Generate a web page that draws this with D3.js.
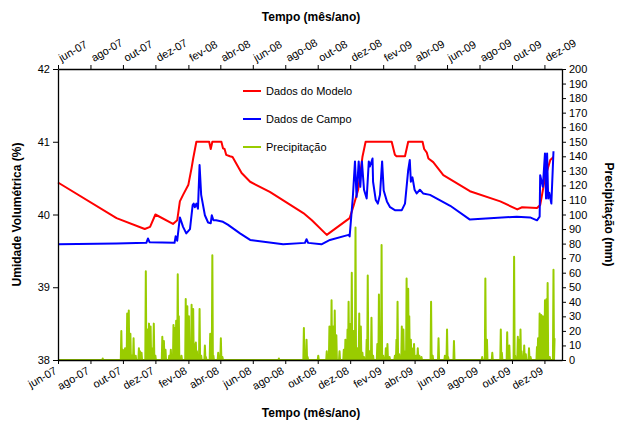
<!DOCTYPE html>
<html>
<head>
<meta charset="utf-8">
<script src="https://cdn.jsdelivr.net/npm/d3@7"></script>
<style>
body { margin: 0; background: #fff; }
text { font-family: "Liberation Sans", Arial, sans-serif; }
</style>
</head>
<body>
<svg id="chart" width="623" height="426"></svg>
<script>
// umidade volumetrica (%) - modelo
var modelo = [
  ["2007-06-01",40.44],["2007-09-19",39.95],["2007-11-11",39.80],["2007-11-21",39.83],
  ["2007-12-01",40.00],["2008-01-03",39.87],["2008-01-11",39.92],["2008-01-16",40.18],
  ["2008-01-22",40.27],["2008-02-01",40.41],["2008-02-07",40.64],["2008-02-10",40.77],
  ["2008-02-16",41.00],["2008-03-11",41.00],["2008-03-14",40.90],["2008-03-17",41.00],
  ["2008-04-03",41.00],["2008-04-06",40.91],["2008-04-09",40.90],["2008-04-12",40.82],
  ["2008-04-19",40.80],["2008-04-24",40.79],["2008-05-11",40.57],["2008-05-27",40.45],
  ["2008-07-03",40.31],["2008-09-04",40.02],["2008-09-20",39.92],["2008-10-18",39.72],
  ["2008-11-30",39.95],["2008-12-07",40.11],["2008-12-16",40.34],["2008-12-24",40.79],
  ["2008-12-30",41.00],["2009-02-17",41.00],["2009-02-23",40.82],["2009-02-26",40.80],
  ["2009-03-14",40.80],["2009-03-20",41.00],["2009-04-16",41.00],["2009-04-19",40.90],
  ["2009-04-24",40.85],["2009-04-27",40.77],["2009-05-06",40.72],["2009-05-25",40.54],
  ["2009-07-14",40.32],["2009-09-09",40.18],["2009-10-11",40.07],["2009-10-20",40.10],
  ["2009-11-17",40.09],["2009-11-23",40.13],["2009-11-26",40.25],["2009-12-02",40.50],
  ["2009-12-12",40.75],["2009-12-18",40.79]
];

// umidade volumetrica (%) - campo
var campo = [
  ["2007-06-01",39.59],["2007-09-19",39.60],["2007-11-14",39.61],["2007-11-17",39.67],
  ["2007-11-20",39.62],["2008-01-06",39.61],["2008-01-08",39.70],["2008-01-11",39.64],
  ["2008-01-16",39.96],["2008-01-22",39.83],["2008-01-28",39.74],["2008-02-04",39.80],
  ["2008-02-09",40.13],["2008-02-11",40.15],["2008-02-13",40.10],["2008-02-16",40.15],
  ["2008-02-19",40.08],["2008-02-22",40.68],["2008-02-25",40.27],["2008-03-03",39.99],
  ["2008-03-09",39.89],["2008-03-14",39.88],["2008-03-16",39.99],["2008-03-19",39.92],
  ["2008-03-24",39.92],["2008-04-06",39.90],["2008-04-15",39.86],["2008-05-08",39.74],
  ["2008-05-27",39.65],["2008-07-28",39.59],["2008-09-07",39.61],["2008-09-10",39.66],
  ["2008-09-13",39.61],["2008-10-08",39.59],["2008-10-24",39.65],["2008-11-28",39.72],
  ["2008-11-30",39.70],["2008-12-06",40.24],["2008-12-10",40.73],["2008-12-13",40.24],
  ["2008-12-17",40.73],["2008-12-20",40.38],["2008-12-23",40.73],["2008-12-27",40.34],
  ["2009-01-01",40.22],["2009-01-05",40.73],["2009-01-07",40.66],["2009-01-12",40.77],
  ["2009-01-13",40.45],["2009-01-18",40.20],["2009-01-22",40.15],["2009-01-26",40.27],
  ["2009-01-30",40.73],["2009-02-02",40.33],["2009-02-08",40.18],["2009-02-14",40.10],
  ["2009-02-23",40.06],["2009-03-08",40.06],["2009-03-14",40.15],["2009-03-20",40.61],
  ["2009-03-23",40.75],["2009-03-25",40.45],["2009-03-28",40.51],["2009-04-01",40.34],
  ["2009-04-05",40.29],["2009-04-11",40.34],["2009-04-17",40.29],["2009-04-30",40.27],
  ["2009-06-07",40.12],["2009-07-14",39.93],["2009-10-10",39.97],["2009-11-04",39.96],
  ["2009-11-17",39.92],["2009-11-22",39.97],["2009-11-23",40.54],["2009-11-28",40.38],
  ["2009-12-02",40.84],["2009-12-04",40.22],["2009-12-06",40.84],["2009-12-08",40.22],
  ["2009-12-10",40.30],["2009-12-14",40.15],["2009-12-18",40.87]
];

// precipitacao (mm) nos dias com chuva; os outros dias = 0
var chuva = [
  ["2007-08-24",1],["2007-09-28",20],["2007-10-01",7],["2007-10-05",8],["2007-10-09",32],
  ["2007-10-12",34],["2007-10-15",18],["2007-10-18",3],["2007-10-21",15],["2007-10-25",3],
  ["2007-10-31",8],["2007-11-02",6],["2007-11-05",5],["2007-11-13",61],["2007-11-16",21],
  ["2007-11-19",25],["2007-11-22",23],["2007-11-24",8],["2007-11-28",25],["2007-12-01",3],
  ["2007-12-14",16],["2007-12-17",13],["2007-12-20",7],["2007-12-27",3],["2007-12-30",7],
  ["2008-01-04",24],["2008-01-06",22],["2008-01-09",27],["2008-01-12",59],["2008-01-14",30],
  ["2008-01-19",3],["2008-01-27",42],["2008-01-30",37],["2008-02-02",30],["2008-02-04",5],
  ["2008-02-07",38],["2008-02-10",35],["2008-02-12",11],["2008-02-15",12],["2008-02-17",6],
  ["2008-02-22",35],["2008-02-25",3],["2008-03-03",10],["2008-03-05",2],["2008-03-13",18],
  ["2008-03-17",72],["2008-03-19",3],["2008-03-28",5],["2008-04-02",15],["2008-04-05",2],
  ["2008-07-20",1],["2008-09-05",22],["2008-09-10",14],["2008-09-12",2],["2008-10-02",3],
  ["2008-10-18",6],["2008-10-23",23],["2008-10-27",41],["2008-10-30",23],["2008-11-02",34],
  ["2008-11-05",17],["2008-11-11",6],["2008-11-19",7],["2008-11-22",14],["2008-11-26",21],
  ["2008-11-28",40],["2008-11-30",25],["2008-12-04",60],["2008-12-07",20],["2008-12-11",91],
  ["2008-12-14",8],["2008-12-18",32],["2008-12-21",23],["2008-12-24",5],["2008-12-27",2],
  ["2009-01-01",14],["2009-01-03",58],["2009-01-06",6],["2009-01-10",29],["2009-01-13",3],
  ["2009-01-21",11],["2009-01-24",45],["2009-01-29",79],["2009-02-01",3],["2009-02-06",8],
  ["2009-02-09",11],["2009-02-13",2],["2009-02-23",3],["2009-02-26",14],["2009-02-28",40],
  ["2009-03-03",4],["2009-03-08",23],["2009-03-11",21],["2009-03-13",6],["2009-03-17",56],
  ["2009-03-20",49],["2009-03-22",30],["2009-03-25",14],["2009-03-27",8],["2009-03-31",11],
  ["2009-04-04",3],["2009-04-07",8],["2009-04-10",3],["2009-04-14",2],["2009-05-02",40],
  ["2009-05-05",3],["2009-05-16",15],["2009-05-28",3],["2009-06-01",21],["2009-06-03",2],
  ["2009-06-14",13],["2009-08-06",2],["2009-08-12",56],["2009-08-15",14],["2009-08-25",5],
  ["2009-09-10",21],["2009-09-12",5],["2009-09-22",19],["2009-09-26",10],["2009-10-05",71],
  ["2009-10-07",3],["2009-10-12",16],["2009-10-14",14],["2009-10-17",21],["2009-10-19",6],
  ["2009-10-24",10],["2009-10-27",4],["2009-11-02",8],["2009-11-05",2],["2009-11-17",9],
  ["2009-11-19",15],["2009-11-22",32],["2009-11-25",31],["2009-11-26",10],["2009-11-28",30],
  ["2009-11-30",6],["2009-12-02",41],["2009-12-05",42],["2009-12-07",53],["2009-12-09",1],
  ["2009-12-11",2],["2009-12-18",62],["2009-12-20",15]
];
var chuvaInicio = "2007-06-01", chuvaFim = "2009-12-20";

var meses = ["jan","fev","mar","abr","mai","jun","jul","ago","set","out","nov","dez"];
var tickDatas = ["2007-06-01","2007-08-01","2007-10-01","2007-12-01","2008-02-01","2008-04-01",
  "2008-06-01","2008-08-01","2008-10-01","2008-12-01","2009-02-01","2009-04-01",
  "2009-06-01","2009-08-01","2009-10-01","2009-12-01"];
var umidadeTicks = [38, 39, 40, 41, 42];
var chuvaTicks = [0,10,20,30,40,50,60,70,80,90,100,110,120,130,140,150,160,170,180,190,200];

var parse = d3.timeParse("%Y-%m-%d");

var svg = d3.select("#chart"),
    margin = {top: 69, right: 61, bottom: 66, left: 58},
    width = +svg.attr("width") - margin.left - margin.right,
    height = +svg.attr("height") - margin.top - margin.bottom,
    g = svg.append("g").attr("transform", "translate(" + margin.left + "," + margin.top + ")");

var x = d3.scaleTime()
    .domain([parse("2007-06-01"), parse("2010-01-03")])
    .range([0, width]);
var yL = d3.scaleLinear().domain([38, 42]).range([height, 0]);
var yR = d3.scaleLinear().domain([0, 200]).range([height, 0]);

function fmtMes(d) { return meses[d.getMonth()] + "-" + d3.timeFormat("%y")(d); }

// serie diaria de chuva
var chuvaMap = {};
chuva.forEach(function(d) { chuvaMap[d[0]] = d[1]; });
var fmtDia = d3.timeFormat("%Y-%m-%d");
var chuvaDia = d3.timeDay.range(parse(chuvaInicio), d3.timeDay.offset(parse(chuvaFim), 1))
    .map(function(d) { var k = fmtDia(d); return [d, chuvaMap[k] || 0]; });

var lineL = d3.line()
    .x(function(d) { return x(parse(d[0])); })
    .y(function(d) { return yL(d[1]); });
var lineR = d3.line()
    .x(function(d) { return x(d[0]); })
    .y(function(d) { return yR(d[1]); });

g.append("path").datum(chuvaDia)
    .attr("fill", "none").attr("stroke", "#99cc00").attr("stroke-width", 2)
    .attr("stroke-linejoin", "round").attr("d", lineR);
g.append("path").datum(modelo)
    .attr("fill", "none").attr("stroke", "#ff0000").attr("stroke-width", 2)
    .attr("stroke-linejoin", "round").attr("d", lineL);
g.append("path").datum(campo)
    .attr("fill", "none").attr("stroke", "#0000ff").attr("stroke-width", 2)
    .attr("stroke-linejoin", "round").attr("d", lineL);

var tv = tickDatas.map(parse);

// eixos
var axB = g.append("g")
    .attr("transform", "translate(0," + height + ")")
    .call(d3.axisBottom(x).tickValues(tv).tickFormat(fmtMes).tickSizeInner(4).tickSizeOuter(0));
axB.selectAll("text")
    .attr("x", null).attr("y", null).attr("dy", null)
    .style("text-anchor", "end")
    .attr("transform", "translate(-1,13) rotate(-30)");

var axT = g.append("g")
    .call(d3.axisTop(x).tickValues(tv).tickFormat(fmtMes).tickSizeInner(4).tickSizeOuter(0));
axT.selectAll("text")
    .attr("x", null).attr("y", null).attr("dy", null)
    .style("text-anchor", "start")
    .attr("transform", "translate(3,-7) rotate(-30)");

g.append("g")
    .call(d3.axisLeft(yL).tickValues(umidadeTicks).tickFormat(d3.format("d")).tickSizeInner(5).tickSizeOuter(0));

g.append("g")
    .attr("transform", "translate(" + width + ",0)")
    .call(d3.axisRight(yR).tickValues(chuvaTicks).tickSizeInner(4).tickSizeOuter(0));

g.selectAll(".tick text").style("font-size", "11px").attr("fill", "#000");
g.selectAll(".domain").attr("stroke", "#000").attr("stroke-width", 1.3);
g.selectAll(".tick line").attr("stroke", "#000");

// titulos
svg.append("text")
    .attr("x", 311).attr("y", 21)
    .attr("text-anchor", "middle")
    .style("font-size", "12px").style("font-weight", "bold")
    .text("Tempo (mês/ano)");
svg.append("text")
    .attr("x", 311).attr("y", 417)
    .attr("text-anchor", "middle")
    .style("font-size", "12px").style("font-weight", "bold")
    .text("Tempo (mês/ano)");
svg.append("text")
    .attr("transform", "translate(21," + (margin.top + height / 2) + ") rotate(-90)")
    .attr("text-anchor", "middle")
    .style("font-size", "12px").style("font-weight", "bold")
    .text("Umidade Volumétrica (%)");
svg.append("text")
    .attr("transform", "translate(605," + (margin.top + height / 2) + ") rotate(90)")
    .attr("text-anchor", "middle")
    .style("font-size", "12px").style("font-weight", "bold")
    .text("Precipitação (mm)");

// legenda
var series = ["Dados do Modelo", "Dados de Campo", "Precipitação"];
var cores = ["#ff0000", "#0000ff", "#99cc00"];
var legend = svg.selectAll(".legend")
    .data(series)
    .enter().append("g")
    .attr("class", "legend")
    .attr("transform", function(d, i) { return "translate(243," + (91 + i * 28) + ")"; });
legend.append("line")
    .attr("x1", 0).attr("x2", 18)
    .attr("stroke", function(d, i) { return cores[i]; })
    .attr("stroke-width", 2);
legend.append("text")
    .attr("x", 23).attr("dy", "0.35em")
    .style("font-size", "11px")
    .text(function(d) { return d; });
</script>
</body>
</html>
